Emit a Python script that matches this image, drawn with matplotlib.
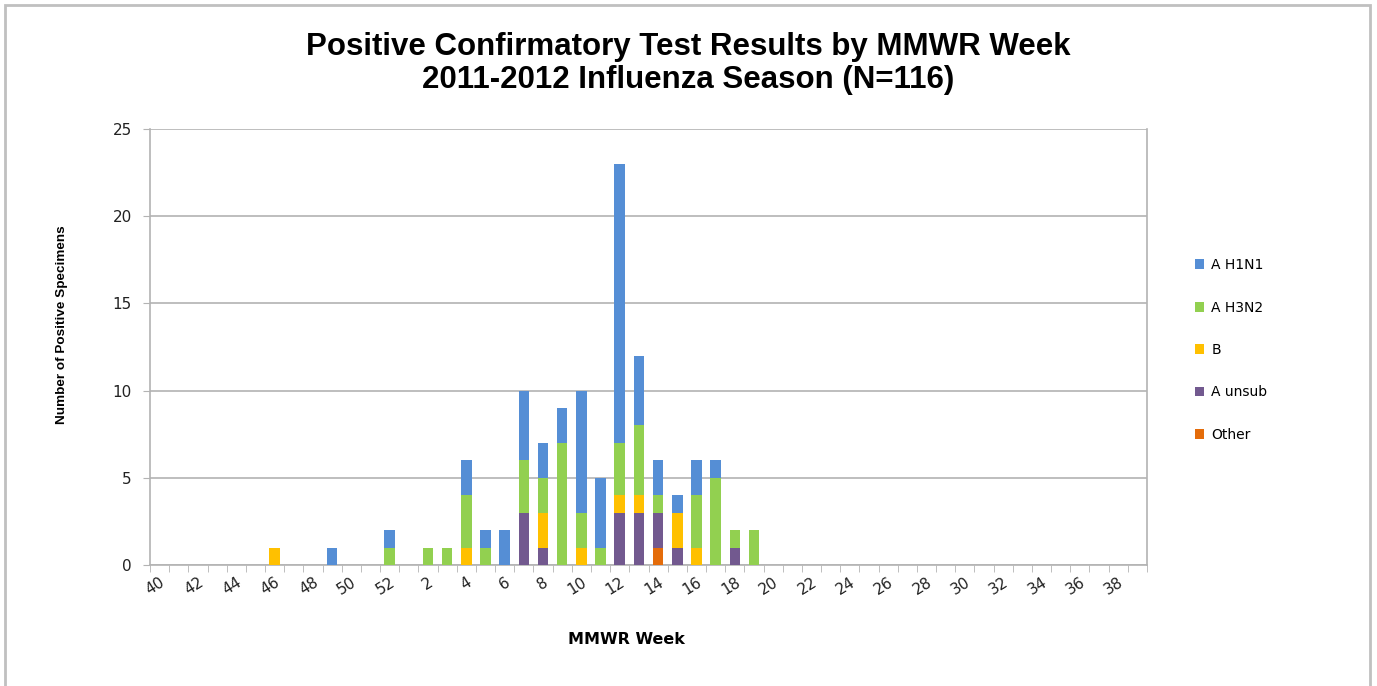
import numpy as np
import matplotlib
matplotlib.use("Agg")
import matplotlib.pyplot as plt
from matplotlib.patches import Rectangle

# MMWR weeks, season runs from week 40 of 2011 to week 39 of 2012
weeks = [40, 41, 42, 43, 44, 45, 46, 47, 48, 49, 50, 51, 52,
         1, 2, 3, 4, 5, 6, 7, 8, 9, 10, 11, 12, 13,
         14, 15, 16, 17, 18, 19, 20, 21, 22, 23, 24, 25, 26,
         27, 28, 29, 30, 31, 32, 33, 34, 35, 36, 37, 38, 39]

# counts per week (stack order bottom -> top: other, unsub, B, H3N2, H1N1)
other = [0, 0, 0, 0, 0, 0, 0, 0, 0, 0, 0, 0, 0,
         0, 0, 0, 0, 0, 0, 0, 0, 0, 0, 0, 0, 0,
         1, 0, 0, 0, 0, 0, 0, 0, 0, 0, 0, 0, 0,
         0, 0, 0, 0, 0, 0, 0, 0, 0, 0, 0, 0, 0]
a_unsub = [0, 0, 0, 0, 0, 0, 0, 0, 0, 0, 0, 0, 0,
           0, 0, 0, 0, 0, 0, 3, 1, 0, 0, 0, 3, 3,
           2, 1, 0, 0, 1, 0, 0, 0, 0, 0, 0, 0, 0,
           0, 0, 0, 0, 0, 0, 0, 0, 0, 0, 0, 0, 0]
b = [0, 0, 0, 0, 0, 0, 1, 0, 0, 0, 0, 0, 0,
     0, 0, 0, 1, 0, 0, 0, 2, 0, 1, 0, 1, 1,
     0, 2, 1, 0, 0, 0, 0, 0, 0, 0, 0, 0, 0,
     0, 0, 0, 0, 0, 0, 0, 0, 0, 0, 0, 0, 0]
a_h3n2 = [0, 0, 0, 0, 0, 0, 0, 0, 0, 0, 0, 0, 1,
          0, 1, 1, 3, 1, 0, 3, 2, 7, 2, 1, 3, 4,
          1, 0, 3, 5, 1, 2, 0, 0, 0, 0, 0, 0, 0,
          0, 0, 0, 0, 0, 0, 0, 0, 0, 0, 0, 0, 0]
a_h1n1 = [0, 0, 0, 0, 0, 0, 0, 0, 0, 1, 0, 0, 1,
          0, 0, 0, 2, 1, 2, 4, 2, 2, 7, 4, 16, 4,
          2, 1, 2, 1, 0, 0, 0, 0, 0, 0, 0, 0, 0,
          0, 0, 0, 0, 0, 0, 0, 0, 0, 0, 0, 0, 0]

series = [("Other", other, "#E46C0A"),
          ("A unsub", a_unsub, "#72598F"),
          ("B", b, "#FFC000"),
          ("A H3N2", a_h3n2, "#92D050"),
          ("A H1N1", a_h1n1, "#558ED5")]

grey = "#B3B3B3"
fig = plt.figure(figsize=(13.77, 6.86), dpi=100)
ax = fig.add_axes([150 / 1377, 121 / 686, 997 / 1377, 436 / 686])

x = np.arange(len(weeks))
bottom = np.zeros(len(weeks))
bars = {}
for name, vals, col in series:
    vals = np.array(vals)
    bars[name] = ax.bar(x, vals, width=0.55, bottom=bottom, color=col,
                        zorder=3)
    bottom += vals

ax.set_xlim(-0.5, len(weeks) - 0.5)
ax.set_ylim(0, 25)
ax.set_yticks([0, 5, 10, 15, 20, 25])
ax.yaxis.grid(True, color=grey, linewidth=1.2, zorder=0)
ax.tick_params(axis="y", length=5, color=grey, labelsize=11, pad=8,
               labelcolor="#222222")

ax.set_xticks(x[::2])
ax.set_xticklabels([str(w) for w in weeks[::2]], rotation=32, ha="right",
                   rotation_mode="anchor", fontsize=11, color="#222222")
ax.set_xticks(np.arange(len(weeks) + 1) - 0.5, minor=True)
ax.tick_params(axis="x", which="major", length=0, pad=7)
ax.tick_params(axis="x", which="minor", length=5, color=grey)

for side in ["left", "bottom", "right"]:
    ax.spines[side].set_color(grey)
    ax.spines[side].set_linewidth(1.2)
ax.spines["top"].set_visible(False)

title_font = "Liberation Sans"
fig.text(0.5, 1 - 47 / 686, "Positive Confirmatory Test Results by MMWR Week",
         ha="center", va="center", fontsize=22.5, fontweight="bold",
         family=title_font)
fig.text(0.5, 1 - 80 / 686, "2011-2012 Influenza Season (N=116)",
         ha="center", va="center", fontsize=22.5, fontweight="bold",
         family=title_font)
fig.text(62 / 1377, 1 - 325 / 686, "Number of Positive Specimens",
         rotation=90, ha="center", va="center", fontsize=9.7,
         fontweight="bold", family=title_font)
fig.text(626 / 1377, 1 - 639 / 686, "MMWR Week", ha="center", va="center",
         fontsize=11.5, fontweight="bold")

handles = [bars[n] for n in ["A H1N1", "A H3N2", "B", "A unsub", "Other"]]
fig.legend(handles, ["A H1N1", "A H3N2", "B", "A unsub", "Other"],
           loc="center left", bbox_to_anchor=(1182 / 1377, 1 - 350 / 686),
           frameon=False, fontsize=10, handlelength=0.7, handleheight=0.7,
           handletextpad=0.5, labelspacing=2.05)

# outer chart border
fig.patches.append(Rectangle((5 / 1377, -0.05), 1365 / 1377, 1.05 - 5 / 686,
                             transform=fig.transFigure, fill=False,
                             edgecolor="#C0C0C0", linewidth=2))

fig.savefig("out.png", dpi=100)
